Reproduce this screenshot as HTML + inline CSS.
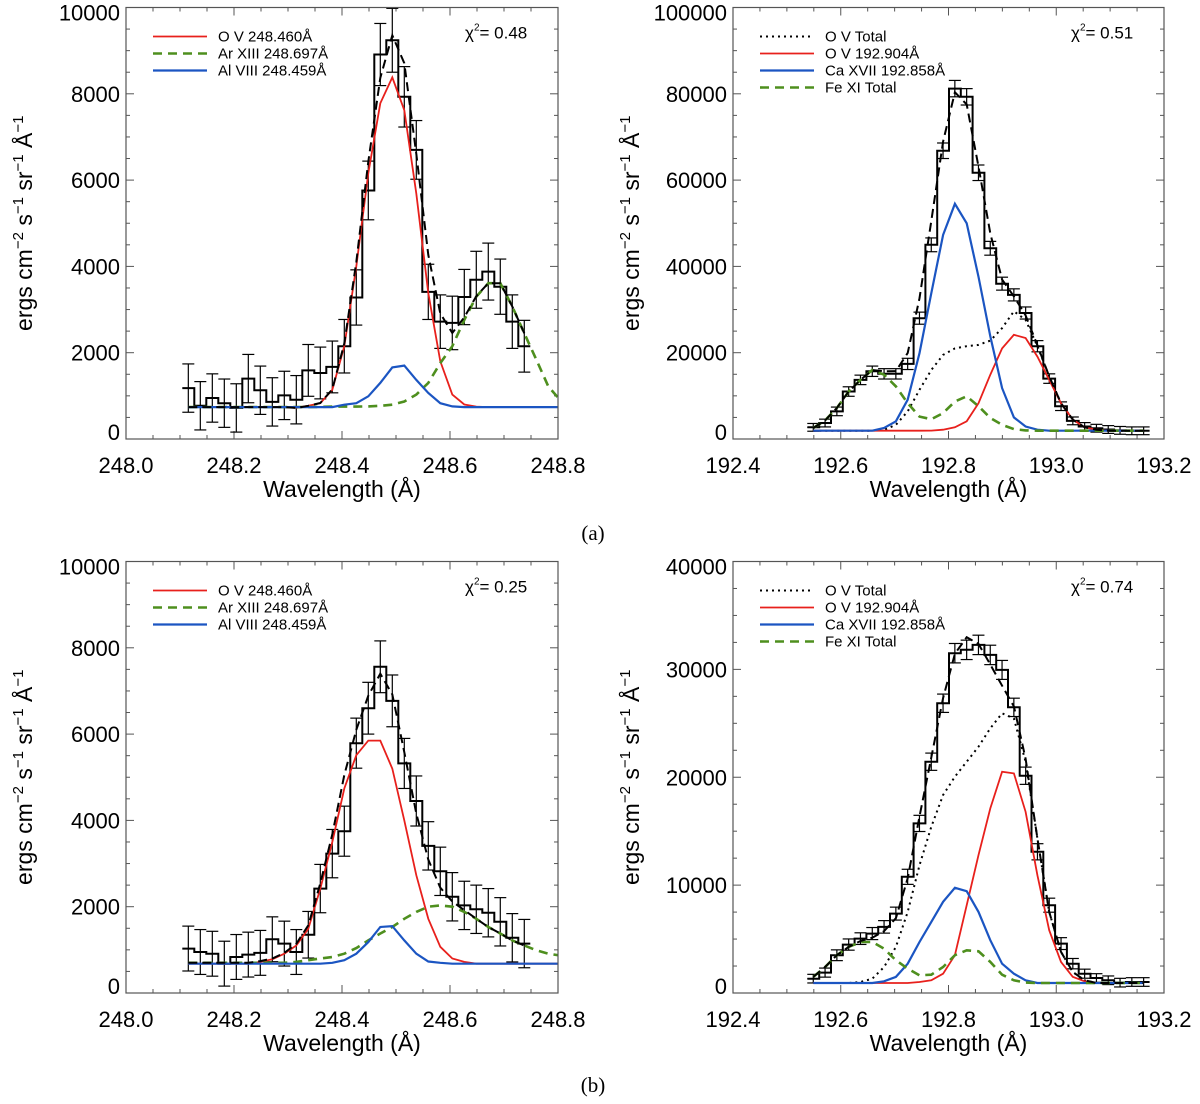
<!DOCTYPE html>
<html><head><meta charset="utf-8">
<style>
html,body{margin:0;padding:0;background:#fff;}
svg{display:block;font-family:"Liberation Sans",Arial,sans-serif;}
</style></head>
<body>
<svg id="fig" width="1200" height="1104" viewBox="0 0 1200 1104" xmlns="http://www.w3.org/2000/svg">
<text x="593" y="540" font-family="Liberation Serif,serif" font-size="21" text-anchor="middle">(a)</text>
<text x="593" y="1092" font-family="Liberation Serif,serif" font-size="21" text-anchor="middle">(b)</text>
</svg>
<script>
// ---------- data: panel A-left (O V 248 Å) ----------
const aLeftStart = 248.1154, aLeftStep = 0.02222;
const aLeftObs = [1180,770,950,830,720,1400,1130,860,1010,910,1590,1530,1670,2150,3280,5760,8910,9240,7930,6700,3410,2720,2690,3290,3690,3880,3530,2720,2150];
const aLeftErr = [560,560,560,560,560,560,560,560,560,560,600,600,600,620,640,680,720,740,700,680,640,620,620,640,660,660,640,620,600];
const aLeftRed = [740,740,740,740,740,740,740,740,740,720,770,830,1140,2150,4000,6160,7780,8380,7620,5690,3380,1800,1030,800,750,740,740,740,740,740,740,740];
const aLeftBlue = [740,740,740,740,740,740,740,740,740,740,740,740,740,795,830,990,1300,1660,1700,1370,1065,830,756,740,740,740,740,740,740,740,740,740];
const aLeftGreen = [740,740,740,740,740,740,740,740,740,740,740,745,750,750,752,756,770,795,870,1030,1300,1760,2150,2760,3300,3610,3610,3070,2450,1840,1220,900];
// ---------- data: panel A-right (O V 192.9 Å) ----------
const aRightStart = 192.549, aRightStep = 0.0219;
const aRightObs = [2700,3700,6400,11000,13700,15700,15100,15100,17400,28000,45000,66800,81200,79300,61700,44200,36000,33400,29200,21500,14000,7600,4200,2900,2500,2200,2000,1900,1900];
const aRightErr = [900,900,1000,1100,1100,1200,1200,1200,1300,1400,1600,1800,1900,1900,1800,1600,1500,1400,1400,1300,1100,1000,900,900,900,900,900,900,900];
const aRightRed = [1930,1930,1930,1930,1930,1930,1930,1930,1930,1930,1950,2160,2700,4100,8300,14900,21000,24150,23400,19100,13700,8300,4500,2700,2160,1930,1930,1930,1930];
const aRightBlue = [1930,1930,1930,1930,1930,1930,2550,4100,9100,19900,33800,47300,54500,50000,37600,23800,11800,5000,2900,2160,1930,1930,1930,1930,1930,1930,1930,1930,1930];
const aRightGreen = [2550,4300,7200,11000,13700,16000,14900,12200,8300,5200,4600,6000,8700,9900,7600,4900,3300,2300,2000,1930,1930,1930,1930,1930,1930,1930,1930,1930,1930];
const aRightOV = [1930,1930,1930,1930,1930,1930,2100,3300,6400,11400,16000,19500,21000,21500,21800,22800,25700,29600,27600,21500,14500,8300,4500,2700,2160,1930,1930,1930,1930];
// ---------- data: panel B-left ----------
const bLeftObs = [1030,950,910,680,835,890,930,1245,1145,950,1350,2420,3230,3750,5790,6600,7560,6770,5320,4450,3410,2820,2230,2030,1940,1860,1650,1280,1145];
const bLeftErr = [520,520,520,520,520,520,520,520,520,520,540,560,560,580,580,600,600,600,580,580,560,560,560,560,560,560,560,560,560];
const bLeftRed = [680,680,680,680,680,680,720,780,910,1100,1490,2420,3500,4740,5510,5850,5850,5200,4000,2730,1720,1070,800,720,680,680,680,680,680,680,680,680];
const bLeftBlue = [680,680,680,680,680,680,680,680,680,680,680,680,700,760,910,1180,1530,1550,1220,910,730,700,680,680,680,680,680,680,680,680,680,680];
const bLeftGreen = [700,700,700,700,700,700,700,700,700,720,760,800,835,910,1040,1220,1380,1530,1720,1880,2000,2030,2000,1880,1720,1530,1380,1220,1100,990,910,870];
// ---------- data: panel B-right ----------
const bRightObs = [1330,1890,3500,4490,5040,5510,6130,7360,10770,15720,21440,26860,31500,31810,32270,31340,29950,26480,20140,13090,8140,4580,2720,1790,1390,1180,960,1020,1020];
const bRightErr = [400,420,500,520,540,560,580,600,700,750,800,850,900,900,900,900,880,850,800,750,650,550,480,420,400,400,400,400,400];
const bRightRed = [930,930,930,930,930,930,930,930,930,1020,1180,1790,3500,8140,12780,17110,20510,20360,16800,10920,5820,2880,1490,1080,930,930,930,930,930];
const bRightBlue = [930,930,930,930,930,930,1080,1490,2720,4730,6590,8450,9750,9440,7520,4890,2720,1790,1180,930,930,930,930,930,930,930,930,930,930];
const bRightGreen = [1490,2410,3500,4270,4730,4730,4110,3030,2260,1640,1700,2410,3500,3960,3870,2880,1700,1180,960,930,930,930,930,930,930,930,930,930,930];
const bRightOV = [930,930,930,930,1020,1330,2410,4270,7520,11850,15410,18350,20050,21440,22830,24540,25930,25460,21440,14330,7520,3810,1950,1180,930,930,930,930,930];
// ---------- axis tick labels ----------
const leftXTicks = ["248.0","248.2","248.4","248.6","248.8"];
const rightXTicks = ["192.4","192.6","192.8","193.0","193.2"];
const yTicksA = ["0","2000","4000","6000","8000","10000"];
const yTicksAR = ["0","20000","40000","60000","80000","100000"];
const yTicksBR = ["0","10000","20000","30000","40000"];
const legendLeft = ["O V 248.460Å","Ar XIII 248.697Å","Al VIII 248.459Å"];
const legendRight = ["O V Total","O V 192.904Å","Ca XVII 192.858Å","Fe XI Total"];

const NS = "http://www.w3.org/2000/svg";
const svg = document.getElementById('fig');
const RED = "#e8201c", BLUE = "#1b55c2", GREEN = "#4e8f1e";

function mk(tag, attrs, parent) {
  const e = document.createElementNS(NS, tag);
  for (const k in attrs) e.setAttribute(k, attrs[k]);
  (parent || svg).appendChild(e);
  return e;
}

function panel(cfg) {
  const g = mk('g', {});
  
  
  const L = cfg.left, R = cfg.right, T = cfg.top, B = cfg.bottom;
  const xs = v => L + (v - cfg.xmin) / (cfg.xmax - cfg.xmin) * (R - L);
  const ys = v => B - (v - cfg.ymin) / (cfg.ymax - cfg.ymin) * (B - T);
  const cp = 'clip-' + cfg.name;
  const defs = mk('defs', {}, g);
  const c = mk('clipPath', {id: cp}, defs);
  mk('rect', {x: L, y: T, width: R - L, height: B - T}, c);

  const ticks = mk('g', {stroke: '#555', 'stroke-width': 1}, g);
  
  
  const nx = (cfg.xmax - cfg.xmin) / 0.05;
  for (let i = 0; i <= nx; i++) {
    const x = L + i * (R - L) / nx; const len = i % 4 === 0 ? 8 : 4;
    mk('line', {x1: x, x2: x, y1: B, y2: B - len}, ticks);
    mk('line', {x1: x, x2: x, y1: T, y2: T + len}, ticks);
  }
  const nMaj = cfg.yTicks.length - 1, ny = nMaj * 4;
  for (let i = 0; i <= ny; i++) {
    const y = B - i * (B - T) / ny; const len = i % 4 === 0 ? 8 : 4;
    mk('line', {x1: L, x2: L + len, y1: y, y2: y}, ticks);
    mk('line', {x1: R, x2: R - len, y1: y, y2: y}, ticks);
  }
  cfg.xTicks.forEach((t, i) => {
    const tx = mk('text', {x: L + i * (R - L) / (cfg.xTicks.length - 1), y: B + 34, 'font-size': 22, 'text-anchor': 'middle'}, g);
    
    
    tx.textContent = t;
  });
  cfg.yTicks.forEach((t, i) => {
    let by = B - i * (B - T) / nMaj + 8;
    if (i === 0) by = B + 1;
    if (i === nMaj) by = T + 13;
    const tx = mk('text', {x: L - 6, y: by, 'font-size': 22, 'text-anchor': 'end'}, g);
    
    
    tx.textContent = t;
  });
  const xt = mk('text', {x: (L + R) / 2, y: B + 58, 'font-size': 23, 'text-anchor': 'middle'}, g);
  
  
  xt.textContent = 'Wavelength (Å)';
  const yt = mk('text', {x: 0, y: 0, 'font-size': 23, 'text-anchor': 'middle', transform: `translate(${L - 94},${(T + B) / 2}) rotate(-90)`}, g);
  
  
  yt.innerHTML = 'ergs cm<tspan dy="-9" font-size="15">−2</tspan><tspan dy="9"> s</tspan><tspan dy="-9" font-size="15">−1</tspan><tspan dy="9"> sr</tspan><tspan dy="-9" font-size="15">−1</tspan><tspan dy="9"> Å</tspan><tspan dy="-9" font-size="15">−1</tspan>';

  const plot = mk('g', {'clip-path': `url(#${cp})`}, g);
  const line = (arr, start, step, attrs, name) => {
    const pts = arr.map((v, i) => xs(start + i * step).toFixed(1) + ',' + ys(v).toFixed(1)).join(' ');
    const p = mk('polyline', Object.assign({points: pts, fill: 'none'}, attrs), plot);
    
    
    return arr;
  };
  const h = cfg.step / 2;
  let d = '';
  cfg.obs.forEach((v, i) => {
    const xc = cfg.start + i * cfg.step;
    d += (i === 0 ? 'M' : 'L') + xs(xc - h).toFixed(1) + ',' + ys(v).toFixed(1) + 'L' + xs(xc + h).toFixed(1) + ',' + ys(v).toFixed(1);
  });
  const hist = mk('path', {d: d, fill: 'none', stroke: '#000', 'stroke-width': 2}, plot);
  
  
  const eg = mk('g', {stroke: '#000', 'stroke-width': 1.2}, plot);
  
  
  cfg.obs.forEach((v, i) => {
    const x = xs(cfg.start + i * cfg.step);
    const y1 = ys(v + cfg.err[i]), y2 = ys(v - cfg.err[i]);
    const cw = cfg.cap;
    mk('line', {x1: x, x2: x, y1: y1, y2: y2}, eg);
    mk('line', {x1: x - cw, x2: x + cw, y1: y1, y2: y1}, eg);
    mk('line', {x1: x - cw, x2: x + cw, y1: y2, y2: y2}, eg);
    if (cfg.cross) mk('line', {x1: x - cw, x2: x + cw, y1: ys(v), y2: ys(v)}, eg);
  });
  cfg.curves.forEach(cv => line(cv.data, cfg.start, cfg.step, cv.attrs, cv.name));
  const tot = cfg.totalParts[0].map((_, i) => cfg.totalParts.reduce((s, a) => s + (a[i] !== undefined ? a[i] : a[a.length - 1]), 0) - (cfg.totalParts.length - 1) * cfg.base);
  line(tot.slice(0, cfg.obs.length), cfg.start, cfg.step, {stroke: '#000', 'stroke-width': 2, 'stroke-dasharray': '9,5'}, 'total-fit-line');

  mk('rect', {x: L, y: T, width: R - L, height: B - T, fill: 'none', stroke: '#555', 'stroke-width': 1.2}, g);

  const lg = mk('g', {}, g);
  
  
  cfg.legend.forEach((le, i) => {
    const y = T + 29 + i * 17;
    const ln = mk('line', Object.assign({x1: L + 27, x2: L + 81, y1: y, y2: y}, le.attrs), lg);
    
    
    const tx = mk('text', {x: L + 92, y: y + 5, 'font-size': 15}, lg);
    
    
    tx.textContent = le.label;
  });
  const chi = mk('text', {x: R - 93, y: T + 31, 'font-size': 17}, g);
  
  
  chi.innerHTML = 'χ<tspan dy="-8" font-size="10">2</tspan><tspan dy="8">= ' + cfg.chi + '</tspan>';
}

const sRed = {stroke: RED, 'stroke-width': 1.8};
const sBlue = {stroke: BLUE, 'stroke-width': 2.2};
const sGreen = {stroke: GREEN, 'stroke-width': 2.6, 'stroke-dasharray': '9,6'};
const sDot = {stroke: '#000', 'stroke-width': 2, 'stroke-dasharray': '2,4'};

panel({name: 'panel-a-left', left: 126, right: 558, top: 7.5, bottom: 439, xmin: 248.0, xmax: 248.8, ymin: 0, ymax: 10000,
  xTicks: leftXTicks, yTicks: yTicksA, start: aLeftStart, step: aLeftStep, obs: aLeftObs, err: aLeftErr, cap: 6, cross: false,
  curves: [{data: aLeftRed, attrs: sRed, name: 'ov-248-line'}, {data: aLeftGreen, attrs: sGreen, name: 'arxiii-line'}, {data: aLeftBlue, attrs: sBlue, name: 'alviii-line'}],
  totalParts: [aLeftRed, aLeftBlue, aLeftGreen], base: 740, chi: '0.48',
  legend: [{label: legendLeft[0], attrs: sRed}, {label: legendLeft[1], attrs: sGreen}, {label: legendLeft[2], attrs: sBlue}]});

panel({name: 'panel-a-right', left: 733, right: 1164, top: 7.5, bottom: 439, xmin: 192.4, xmax: 193.2, ymin: 0, ymax: 100000,
  xTicks: rightXTicks, yTicks: yTicksAR, start: aRightStart, step: aRightStep, obs: aRightObs, err: aRightErr, cap: 6, cross: true,
  curves: [{data: aRightOV, attrs: sDot, name: 'ov-total-line'}, {data: aRightRed, attrs: sRed, name: 'ov-192-line'}, {data: aRightBlue, attrs: sBlue, name: 'caxvii-line'}, {data: aRightGreen, attrs: sGreen, name: 'fexi-total-line'}],
  totalParts: [aRightOV, aRightBlue, aRightGreen], base: 1930, chi: '0.51',
  legend: [{label: legendRight[0], attrs: sDot}, {label: legendRight[1], attrs: sRed}, {label: legendRight[2], attrs: sBlue}, {label: legendRight[3], attrs: sGreen}]});

panel({name: 'panel-b-left', left: 126, right: 558, top: 561.5, bottom: 993, xmin: 248.0, xmax: 248.8, ymin: 0, ymax: 10000,
  xTicks: leftXTicks, yTicks: yTicksA, start: aLeftStart, step: aLeftStep, obs: bLeftObs, err: bLeftErr, cap: 6, cross: false,
  curves: [{data: bLeftRed, attrs: sRed, name: 'ov-248-line'}, {data: bLeftGreen, attrs: sGreen, name: 'arxiii-line'}, {data: bLeftBlue, attrs: sBlue, name: 'alviii-line'}],
  totalParts: [bLeftRed, bLeftBlue, bLeftGreen], base: 680, chi: '0.25',
  legend: [{label: legendLeft[0], attrs: sRed}, {label: legendLeft[1], attrs: sGreen}, {label: legendLeft[2], attrs: sBlue}]});

panel({name: 'panel-b-right', left: 733, right: 1164, top: 561.5, bottom: 993, xmin: 192.4, xmax: 193.2, ymin: 0, ymax: 40000,
  xTicks: rightXTicks, yTicks: yTicksBR, start: aRightStart, step: aRightStep, obs: bRightObs, err: bRightErr, cap: 6, cross: true,
  curves: [{data: bRightOV, attrs: sDot, name: 'ov-total-line'}, {data: bRightRed, attrs: sRed, name: 'ov-192-line'}, {data: bRightBlue, attrs: sBlue, name: 'caxvii-line'}, {data: bRightGreen, attrs: sGreen, name: 'fexi-total-line'}],
  totalParts: [bRightOV, bRightBlue, bRightGreen], base: 930, chi: '0.74',
  legend: [{label: legendRight[0], attrs: sDot}, {label: legendRight[1], attrs: sRed}, {label: legendRight[2], attrs: sBlue}, {label: legendRight[3], attrs: sGreen}]});
</script>
</body></html>
